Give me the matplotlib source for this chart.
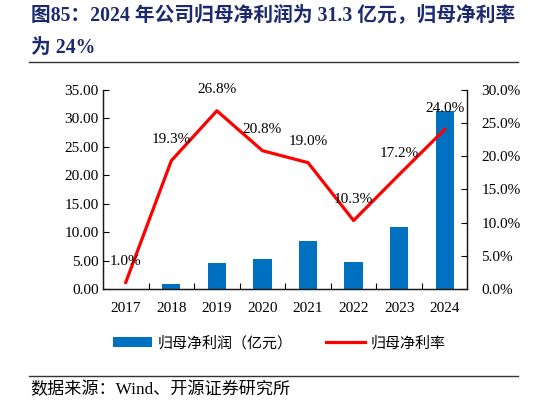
import matplotlib
matplotlib.use('Agg')
import matplotlib.pyplot as plt
from matplotlib.ticker import FuncFormatter, FixedLocator

# 字体：数字用衬线体，中文回落到思源黑体
plt.rcParams['font.family'] = ['Liberation Serif', 'Noto Sans CJK SC']
plt.rcParams['axes.unicode_minus'] = False

# 数据
years = ['2017', '2018', '2019', '2020', '2021', '2022', '2023', '2024']
profit = [0.03, 0.95, 4.5, 5.2, 8.5, 4.75, 10.85, 31.3]   # 归母净利润（亿元）
margin = [1.0, 19.3, 26.8, 20.8, 19.0, 10.3, 17.2, 24.0]  # 归母净利率（%）
margin_labels = ['1.0%', '19.3%', '26.8%', '20.8%', '19.0%', '10.3%', '17.2%', '24.0%']

fig = plt.figure(figsize=(5.46, 4.05), dpi=100)
ax = fig.add_axes([0.1886, 0.2864, 0.6676, 0.4926])
ax2 = ax.twinx()

x = list(range(len(years)))
bars = ax.bar(x, profit, width=0.4, color='#0070C0', label='归母净利润（亿元）', zorder=2)
line, = ax2.plot(x, margin, color='#FF0000', lw=2.3, label='归母净利率', zorder=3)

for xi, v, lab in zip(x, margin, margin_labels):
    ax2.annotate(lab, (xi, v), xytext=(0, 15), textcoords='offset points',
                 ha='center', va='center', fontsize=11, color='black')

ax.set_xlim(-0.5, 7.5)
ax.set_ylim(0, 35)
ax2.set_ylim(0, 30)
ax.set_yticks([0, 5, 10, 15, 20, 25, 30, 35])
ax2.set_yticks([0, 5, 10, 15, 20, 25, 30])
ax.yaxis.set_major_formatter(FuncFormatter(lambda v, p: f'{v:.2f}'))
ax2.yaxis.set_major_formatter(FuncFormatter(lambda v, p: f'{v:.1f}%'))

ax.set_xticks(x)
ax.set_xticklabels(years)
ax.xaxis.set_minor_locator(FixedLocator([i + 0.5 for i in range(7)]))
ax.tick_params(axis='x', which='major', length=0, pad=9, labelsize=11, colors='black')
ax.tick_params(axis='x', which='minor', direction='in', length=4, width=0.8)
ax.tick_params(axis='y', direction='in', length=4, width=0.8, pad=3, labelsize=11, colors='black')
ax2.tick_params(axis='y', direction='in', length=4, width=0.8, pad=10, labelsize=11, colors='black')

for a in (ax, ax2):
    a.spines['top'].set_visible(False)
    for s in ('left', 'right', 'bottom'):
        a.spines[s].set_linewidth(0.9)
        a.spines[s].set_color('#1a1a1a')

leg = fig.legend(handles=[bars, line], loc='center', bbox_to_anchor=(0.511, 0.153),
                 ncol=2, frameon=False, handlelength=2.6,
                 columnspacing=2.2, handletextpad=0.4,
                 prop={'family': ['Noto Sans CJK SC'], 'size': 10.8})

# 标题
title_color = '#1c2a6e'
fig.text(0.056, 0.963, '图85：2024 年公司归母净利润为 31.3 亿元，归母净利率',
         fontsize=14.2, fontweight='bold', color=title_color, ha='left', va='center')
fig.text(0.056, 0.882, '为 24%', fontsize=14.2, fontweight='bold', color=title_color,
         ha='left', va='center')

# 分隔线
fig.add_artist(plt.Line2D([0.053, 0.949], [0.847, 0.847], color='#333333', lw=1.0))
fig.add_artist(plt.Line2D([0.053, 0.949], [0.0716, 0.0716], color='#333333', lw=1.0))

fig.text(0.056, 0.037, '数据来源：Wind、开源证券研究所', fontsize=12.3, color='black',
         ha='left', va='center')

fig.savefig('out.png', dpi=100)
